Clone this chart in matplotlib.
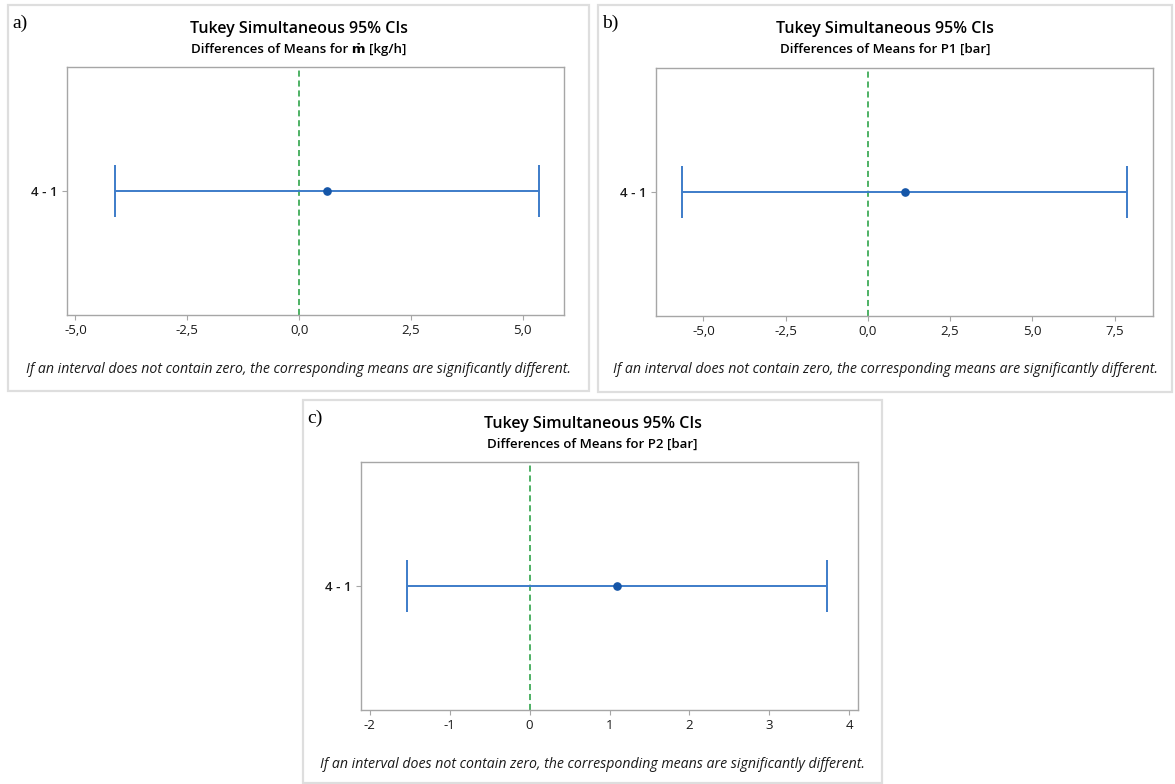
import matplotlib
matplotlib.use('Agg')
import matplotlib.pyplot as plt
from matplotlib.patches import Rectangle

W, H = 1175, 784

# Tukey comparison 4 - 1 for each response
panel_tags = ['a)', 'b)', 'c)']
subtitles = ['Differences of Means for ṁ [kg/h]',
             'Differences of Means for P1 [bar]',
             'Differences of Means for P2 [bar]']
comparison = '4 - 1'
lower = [-4.11, -5.64, -1.53]
diff = [0.63, 1.12, 1.10]
upper = [5.37, 7.88, 3.72]
xticks = [[-5.0, -2.5, 0.0, 2.5, 5.0],
          [-5.0, -2.5, 0.0, 2.5, 5.0, 7.5],
          [-2, -1, 0, 1, 2, 3, 4]]
xtick_labels = [['-5,0', '-2,5', '0,0', '2,5', '5,0'],
                ['-5,0', '-2,5', '0,0', '2,5', '5,0', '7,5'],
                ['-2', '-1', '0', '1', '2', '3', '4']]
xlims = [(-5.19, 5.92), (-6.44, 8.67), (-2.11, 4.11)]

footnote = ('If an interval does not contain zero, the corresponding means '
            'are significantly different.')

# layout in pixels: (frame box, axes box), boxes as (left, top, right, bottom)
frames = [(8, 5, 589, 391), (598, 5, 1172, 392), (303, 400, 882, 783)]
axes_px = [(67, 67, 564, 315), (656, 68, 1153, 316), (361, 462, 858, 710)]

font = ['Open Sans', 'DejaVu Sans']
line_blue = '#3d7cc9'
dot_blue = '#1556a8'
zero_green = '#1e9c3a'
spine_gray = '#a6a6a6'


def fx(x):
    return x / W


def fy(y):
    return 1 - y / H


fig = plt.figure(figsize=(W / 100, H / 100), dpi=100)
fig.patch.set_facecolor('white')

for i in range(3):
    l, t, r, b = frames[i]
    fig.patches.append(Rectangle((fx(l), fy(b)), fx(r - l), (b - t) / H,
                                 transform=fig.transFigure, fill=False,
                                 edgecolor='#dedede', linewidth=1.6))

    al, at, ar, ab = axes_px[i]
    ax = fig.add_axes([fx(al), fy(ab), fx(ar - al), (ab - at) / H])

    ax.errorbar([diff[i]], [1], xerr=[[diff[i] - lower[i]], [upper[i] - diff[i]]],
                fmt='none', ecolor=line_blue, elinewidth=1.4, capsize=18.5,
                capthick=1.4, zorder=3)
    ax.plot([diff[i]], [1], 'o', color=dot_blue, markersize=5.2, zorder=4)
    ax.axvline(0, color=zero_green, linestyle=(0, (4, 2.5)), linewidth=1.1, zorder=2)

    ax.set_xlim(*xlims[i])
    ax.set_ylim(0, 2)
    ax.set_xticks(xticks[i])
    ax.set_xticklabels(xtick_labels[i], family=font, fontsize=9.5, color='#1a1a1a')
    ax.set_yticks([1])
    ax.set_yticklabels([comparison], family=font, fontsize=9.5, color='#1a1a1a',
                       fontweight='semibold')
    ax.tick_params(axis='both', direction='out', length=3.5, width=0.8,
                   color=spine_gray, pad=3)
    for sp in ax.spines.values():
        sp.set_color(spine_gray)
        sp.set_linewidth(1.0)

    cx = (l + r) / 2
    fig.text(fx(cx), fy(t + 24), 'Tukey Simultaneous 95% CIs', family=font,
             fontsize=11.5, fontweight='semibold', ha='center', va='center')
    fig.text(fx(cx), fy(t + 44), subtitles[i], family=font, fontsize=9.5,
             fontweight='semibold', ha='center', va='center')
    fig.text(fx(cx), fy(t + 365), footnote, family=font, fontsize=10.2,
             style='italic', ha='center', va='center', color='#1a1a1a')
    fig.text(fx(l + 4), fy(t + 18), panel_tags[i], family='Liberation Serif',
             fontsize=14, ha='left', va='center')

fig.savefig('out.png', dpi=100, facecolor='white')
